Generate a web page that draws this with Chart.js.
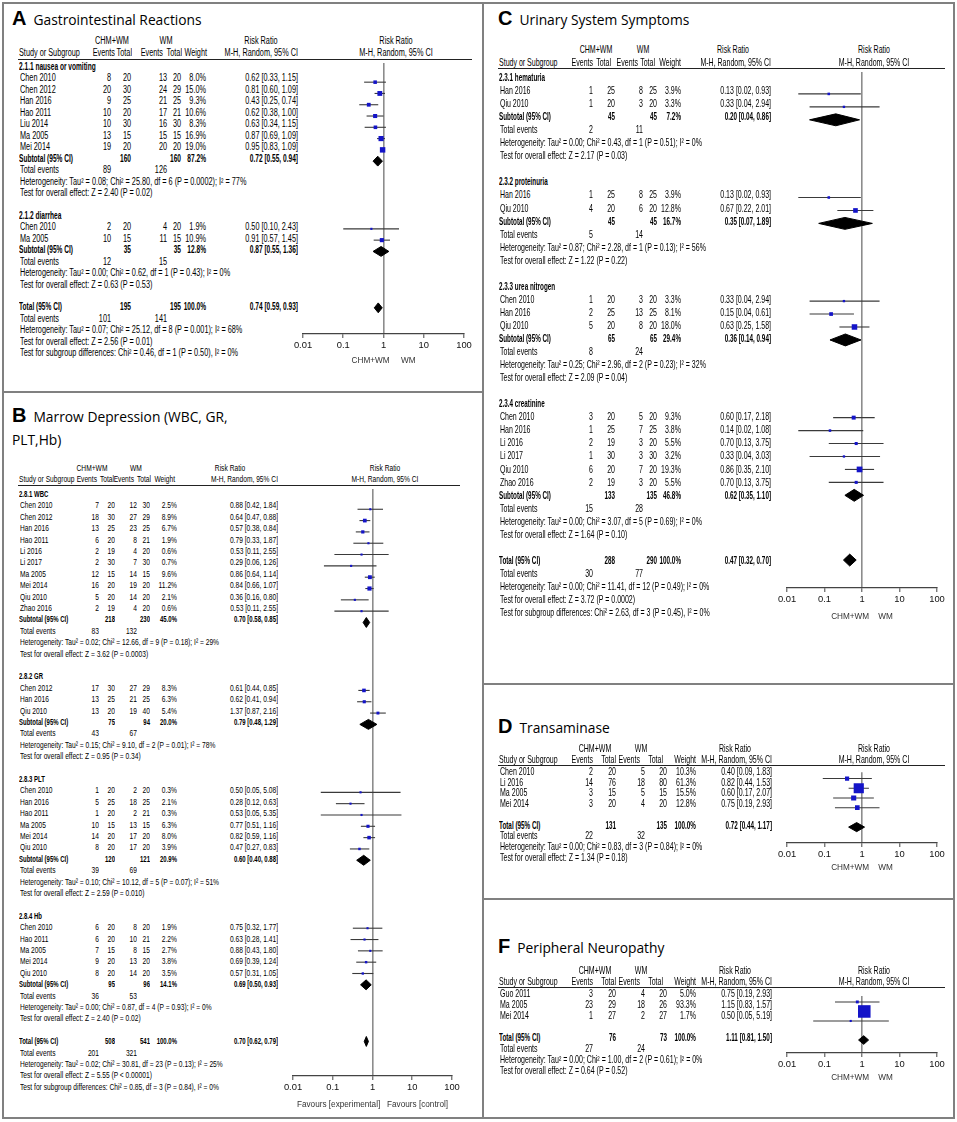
<!DOCTYPE html>
<html>
<head>
<meta charset="utf-8">
<script src="https://cdn.jsdelivr.net/npm/chart.js@4.4.0/dist/chart.umd.min.js"></script>
<style>
body { margin: 0; background: #fff; }
#fig { position: relative; width: 957px; height: 1122px; overflow: hidden; color: #000;
       font-family: "Liberation Sans", Arial, sans-serif; }
.t { position: absolute; white-space: nowrap; line-height: 14px; height: 14px; }
.ttl { position: absolute; white-space: nowrap; font-family: "Open Sans", sans-serif; font-size: 13.8px; line-height: 20px; }
.ttl b { font-family: "Liberation Sans", Arial, sans-serif; font-size: 20px; margin-right: 7px; }
.ln { position: absolute; background: #808080; }
.hl { position: absolute; height: 1px; background: #222; }
canvas { position: absolute; }
</style>
</head>
<body>
<div id="fig"></div>
<script>
// x axis of every forest plot
var tickValues = [0.01, 0.1, 1, 10, 100];
var tickLabels = ["0.01", "0.1", "1", "10", "100"];

// study rows: [name, CHM+WM events, total, WM events, total, weight %, RR, low, high]
// subtotal rows: [CHM+WM total, WM total, weight %, RR, low, high]

/* A - gastrointestinal */
var gi1 = [
    ["Chen 2010", 8, 20, 13, 20, 8.0, 0.62, 0.33, 1.15],
    ["Chen 2012", 20, 30, 24, 29, 15.0, 0.81, 0.60, 1.09],
    ["Han 2016", 9, 25, 21, 25, 9.3, 0.43, 0.25, 0.74],
    ["Hao 2011", 10, 20, 17, 21, 10.6, 0.62, 0.38, 1.00],
    ["Liu 2014", 10, 30, 16, 30, 8.3, 0.63, 0.34, 1.15],
    ["Ma 2005", 13, 15, 15, 15, 16.9, 0.87, 0.69, 1.09],
    ["Mei 2014", 19, 20, 20, 20, 19.0, 0.95, 0.83, 1.09]
];
var gi1Sub = [160, 160, 87.2, 0.72, 0.55, 0.94];
var gi1Events = [89, 126];
var gi1Notes = ["Heterogeneity: Tau\u00b2 = 0.08; Chi\u00b2 = 25.80, df = 6 (P = 0.0002); I\u00b2 = 77%",
                "Test for overall effect: Z = 2.40 (P = 0.02)"];
var gi2 = [
    ["Chen 2010", 2, 20, 4, 20, 1.9, 0.50, 0.10, 2.43],
    ["Ma 2005", 10, 15, 11, 15, 10.9, 0.91, 0.57, 1.45]
];
var gi2Sub = [35, 35, 12.8, 0.87, 0.55, 1.36];
var gi2Events = [12, 15];
var gi2Notes = ["Heterogeneity: Tau\u00b2 = 0.00; Chi\u00b2 = 0.62, df = 1 (P = 0.43); I\u00b2 = 0%",
                "Test for overall effect: Z = 0.63 (P = 0.53)"];
var giTotal = [195, 195, 100.0, 0.74, 0.59, 0.93];
var giEvents = [101, 141];
var giNotes = ["Heterogeneity: Tau\u00b2 = 0.07; Chi\u00b2 = 25.12, df = 8 (P = 0.001); I\u00b2 = 68%",
               "Test for overall effect: Z = 2.56 (P = 0.01)",
               "Test for subgroup differences: Chi\u00b2 = 0.46, df = 1 (P = 0.50), I\u00b2 = 0%"];

/* B - marrow depression */
var md1 = [
    ["Chen 2010", 7, 20, 12, 30, 2.5, 0.88, 0.42, 1.84],
    ["Chen 2012", 18, 30, 27, 29, 8.9, 0.64, 0.47, 0.88],
    ["Han 2016", 13, 25, 23, 25, 6.7, 0.57, 0.38, 0.84],
    ["Hao 2011", 6, 20, 8, 21, 1.9, 0.79, 0.33, 1.87],
    ["Li 2016", 2, 19, 4, 20, 0.6, 0.53, 0.11, 2.55],
    ["Li 2017", 2, 30, 7, 30, 0.7, 0.29, 0.06, 1.26],
    ["Ma 2005", 12, 15, 14, 15, 9.6, 0.86, 0.64, 1.14],
    ["Mei 2014", 16, 20, 19, 20, 11.2, 0.84, 0.66, 1.07],
    ["Qiu 2010", 5, 20, 14, 20, 2.1, 0.36, 0.16, 0.80],
    ["Zhao 2016", 2, 19, 4, 20, 0.6, 0.53, 0.11, 2.55]
];
var md1Sub = [218, 230, 45.0, 0.70, 0.58, 0.85];
var md1Events = [83, 132];
var md1Notes = ["Heterogeneity: Tau\u00b2 = 0.02; Chi\u00b2 = 12.66, df = 9 (P = 0.18); I\u00b2 = 29%",
                "Test for overall effect: Z = 3.62 (P = 0.0003)"];
var md2 = [
    ["Chen 2012", 17, 30, 27, 29, 8.3, 0.61, 0.44, 0.85],
    ["Han 2016", 13, 25, 21, 25, 6.3, 0.62, 0.41, 0.94],
    ["Qiu 2010", 13, 20, 19, 40, 5.4, 1.37, 0.87, 2.16]
];
var md2Sub = [75, 94, 20.0, 0.79, 0.48, 1.29];
var md2Events = [43, 67];
var md2Notes = ["Heterogeneity: Tau\u00b2 = 0.15; Chi\u00b2 = 9.10, df = 2 (P = 0.01); I\u00b2 = 78%",
                "Test for overall effect: Z = 0.95 (P = 0.34)"];
var md3 = [
    ["Chen 2010", 1, 20, 2, 20, 0.3, 0.50, 0.05, 5.08],
    ["Han 2016", 5, 25, 18, 25, 2.1, 0.28, 0.12, 0.63],
    ["Hao 2011", 1, 20, 2, 21, 0.3, 0.53, 0.05, 5.35],
    ["Ma 2005", 10, 15, 13, 15, 6.3, 0.77, 0.51, 1.16],
    ["Mei 2014", 14, 20, 17, 20, 8.0, 0.82, 0.59, 1.16],
    ["Qiu 2010", 8, 20, 17, 20, 3.9, 0.47, 0.27, 0.83]
];
var md3Sub = [120, 121, 20.9, 0.60, 0.40, 0.88];
var md3Events = [39, 69];
var md3Notes = ["Heterogeneity: Tau\u00b2 = 0.10; Chi\u00b2 = 10.12, df = 5 (P = 0.07); I\u00b2 = 51%",
                "Test for overall effect: Z = 2.59 (P = 0.010)"];
var md4 = [
    ["Chen 2010", 6, 20, 8, 20, 1.9, 0.75, 0.32, 1.77],
    ["Hao 2011", 6, 20, 10, 21, 2.2, 0.63, 0.28, 1.41],
    ["Ma 2005", 7, 15, 8, 15, 2.7, 0.88, 0.43, 1.80],
    ["Mei 2014", 9, 20, 13, 20, 3.8, 0.69, 0.39, 1.24],
    ["Qiu 2010", 8, 20, 14, 20, 3.5, 0.57, 0.31, 1.05]
];
var md4Sub = [95, 96, 14.1, 0.69, 0.50, 0.93];
var md4Events = [36, 53];
var md4Notes = ["Heterogeneity: Tau\u00b2 = 0.00; Chi\u00b2 = 0.87, df = 4 (P = 0.93); I\u00b2 = 0%",
                "Test for overall effect: Z = 2.40 (P = 0.02)"];
var mdTotal = [508, 541, 100.0, 0.70, 0.62, 0.79];
var mdEvents = [201, 321];
var mdNotes = ["Heterogeneity: Tau\u00b2 = 0.02; Chi\u00b2 = 30.81, df = 23 (P = 0.13); I\u00b2 = 25%",
               "Test for overall effect: Z = 5.55 (P < 0.00001)",
               "Test for subgroup differences: Chi\u00b2 = 0.85, df = 3 (P = 0.84), I\u00b2 = 0%"];

/* C - urinary system */
var us1 = [
    ["Han 2016", 1, 25, 8, 25, 3.9, 0.13, 0.02, 0.93],
    ["Qiu 2010", 1, 20, 3, 20, 3.3, 0.33, 0.04, 2.94]
];
var us1Sub = [45, 45, 7.2, 0.20, 0.04, 0.86];
var us1Events = [2, 11];
var us1Notes = ["Heterogeneity: Tau\u00b2 = 0.00; Chi\u00b2 = 0.43, df = 1 (P = 0.51); I\u00b2 = 0%",
                "Test for overall effect: Z = 2.17 (P = 0.03)"];
var us2 = [
    ["Han 2016", 1, 25, 8, 25, 3.9, 0.13, 0.02, 0.93],
    ["Qiu 2010", 4, 20, 6, 20, 12.8, 0.67, 0.22, 2.01]
];
var us2Sub = [45, 45, 16.7, 0.35, 0.07, 1.89];
var us2Events = [5, 14];
var us2Notes = ["Heterogeneity: Tau\u00b2 = 0.87; Chi\u00b2 = 2.28, df = 1 (P = 0.13); I\u00b2 = 56%",
                "Test for overall effect: Z = 1.22 (P = 0.22)"];
var us3 = [
    ["Chen 2010", 1, 20, 3, 20, 3.3, 0.33, 0.04, 2.94],
    ["Han 2016", 2, 25, 13, 25, 8.1, 0.15, 0.04, 0.61],
    ["Qiu 2010", 5, 20, 8, 20, 18.0, 0.63, 0.25, 1.58]
];
var us3Sub = [65, 65, 29.4, 0.36, 0.14, 0.94];
var us3Events = [8, 24];
var us3Notes = ["Heterogeneity: Tau\u00b2 = 0.25; Chi\u00b2 = 2.96, df = 2 (P = 0.23); I\u00b2 = 32%",
                "Test for overall effect: Z = 2.09 (P = 0.04)"];
var us4 = [
    ["Chen 2010", 3, 20, 5, 20, 9.3, 0.60, 0.17, 2.18],
    ["Han 2016", 1, 25, 7, 25, 3.8, 0.14, 0.02, 1.08],
    ["Li 2016", 2, 19, 3, 20, 5.5, 0.70, 0.13, 3.75],
    ["Li 2017", 1, 30, 3, 30, 3.2, 0.33, 0.04, 3.03],
    ["Qiu 2010", 6, 20, 7, 20, 19.3, 0.86, 0.35, 2.10],
    ["Zhao 2016", 2, 19, 3, 20, 5.5, 0.70, 0.13, 3.75]
];
var us4Sub = [133, 135, 46.8, 0.62, 0.35, 1.10];
var us4Events = [15, 28];
var us4Notes = ["Heterogeneity: Tau\u00b2 = 0.00; Chi\u00b2 = 3.07, df = 5 (P = 0.69); I\u00b2 = 0%",
                "Test for overall effect: Z = 1.64 (P = 0.10)"];
var usTotal = [288, 290, 100.0, 0.47, 0.32, 0.70];
var usEvents = [30, 77];
var usNotes = ["Heterogeneity: Tau\u00b2 = 0.00; Chi\u00b2 = 11.41, df = 12 (P = 0.49); I\u00b2 = 0%",
               "Test for overall effect: Z = 3.72 (P = 0.0002)",
               "Test for subgroup differences: Chi\u00b2 = 2.63, df = 3 (P = 0.45), I\u00b2 = 0%"];

/* D - transaminase */
var tr = [
    ["Chen 2010", 2, 20, 5, 20, 10.3, 0.40, 0.09, 1.83],
    ["Li 2016", 14, 76, 18, 80, 61.3, 0.82, 0.44, 1.53],
    ["Ma 2005", 3, 15, 5, 15, 15.5, 0.60, 0.17, 2.07],
    ["Mei 2014", 3, 20, 4, 20, 12.8, 0.75, 0.19, 2.93]
];
var trTotal = [131, 135, 100.0, 0.72, 0.44, 1.17];
var trEvents = [22, 32];
var trNotes = ["Heterogeneity: Tau\u00b2 = 0.00; Chi\u00b2 = 0.83, df = 3 (P = 0.84); I\u00b2 = 0%",
               "Test for overall effect: Z = 1.34 (P = 0.18)"];

/* F - peripheral neuropathy */
var pn = [
    ["Guo 2011", 3, 20, 4, 20, 5.0, 0.75, 0.19, 2.93],
    ["Ma 2005", 23, 29, 18, 26, 93.3, 1.15, 0.83, 1.57],
    ["Mei 2014", 1, 27, 2, 27, 1.7, 0.50, 0.05, 5.19]
];
var pnTotal = [76, 73, 100.0, 1.11, 0.81, 1.50];
var pnEvents = [27, 24];
var pnNotes = ["Heterogeneity: Tau\u00b2 = 0.00; Chi\u00b2 = 1.00, df = 2 (P = 0.61); I\u00b2 = 0%",
               "Test for overall effect: Z = 0.64 (P = 0.52)"];

/************** layout of the five panels **************/
var rightCols = { name: 500, e1: 593, n1: 616, e2: 645, n2: 667, w: 696, ci: 772 };
var rightHead = { c1: 595, c2: 641, rr: 735, ev1: 593, t1: 616, ev2: 640, t2: 663, w: 696 };
var panels = [
    { letter: "A", title: ["Gastrointestinal Reactions"], tx: 12, ty: 18,
      h1: 41, h2: 53, lineY: 59, lx0: 18, lx1: 472, row0: 67, pitch: 11.45, fs: 10, sx: 0.73,
      cols: { name: 20, e1: 111, n1: 131, e2: 167, n2: 181, w: 206, ci: 298 },
      hc: { c1: 112, c2: 166, rr: 261, ev1: 115, t1: 132, ev2: 163, t2: 182, w: 207 },
      x0: 303, x1: 464, axisY: 334, axisH: 32, xTitle: "CHM+WM     WM", sq: 1.25, dia: 5,
      groups: [
          { label: "2.1.1 nausea or vomiting", rows: gi1, sub: gi1Sub, ev: gi1Events, notes: gi1Notes },
          { label: "2.1.2 diarrhea", rows: gi2, sub: gi2Sub, ev: gi2Events, notes: gi2Notes }
      ],
      total: { sub: giTotal, ev: giEvents, notes: giNotes } },
    { letter: "B", title: ["Marrow Depression (WBC, GR,", "PLT,Hb)"], tx: 12, ty: 415,
      h1: 468, h2: 479, lineY: 485, lx0: 18, lx1: 460, row0: 494, pitch: 11.4, fs: 9.4, sx: 0.71,
      cols: { name: 20, e1: 99, n1: 115, e2: 137, n2: 150, w: 177, ci: 278 },
      hc: { c1: 92, c2: 136, rr: 230, ev1: 97, t1: 114, ev2: 134, t2: 151, w: 175 },
      x0: 293, x1: 452, axisY: 1076, axisH: 34, xTitle: "Favours [experimental]   Favours [control]", sq: 1.25, dia: 5,
      groups: [
          { label: "2.8.1 WBC", rows: md1, sub: md1Sub, ev: md1Events, notes: md1Notes },
          { label: "2.8.2 GR", rows: md2, sub: md2Sub, ev: md2Events, notes: md2Notes },
          { label: "2.8.3 PLT", rows: md3, sub: md3Sub, ev: md3Events, notes: md3Notes },
          { label: "2.8.4 Hb", rows: md4, sub: md4Sub, ev: md4Events, notes: md4Notes }
      ],
      total: { sub: mdTotal, ev: mdEvents, notes: mdNotes } },
    { letter: "C", title: ["Urinary System Symptoms"], tx: 498, ty: 18,
      h1: 49, h2: 62, lineY: 68, lx0: 498, lx1: 945, row0: 77, pitch: 13.05, fs: 10.8, sx: 0.65,
      cols: { name: 500, e1: 593, n1: 615, e2: 643, n2: 657, w: 681, ci: 771 },
      hc: { c1: 596, c2: 643, rr: 733, ev1: 593, t1: 611, ev2: 638, t2: 655, w: 681 },
      x0: 787, x1: 937, axisY: 588, axisH: 34, xTitle: "CHM+WM    WM", sq: 1.3, dia: 6,
      groups: [
          { label: "2.3.1 hematuria", rows: us1, sub: us1Sub, ev: us1Events, notes: us1Notes },
          { label: "2.3.2 proteinuria", rows: us2, sub: us2Sub, ev: us2Events, notes: us2Notes },
          { label: "2.3.3 urea nitrogen", rows: us3, sub: us3Sub, ev: us3Events, notes: us3Notes },
          { label: "2.3.4 creatinine", rows: us4, sub: us4Sub, ev: us4Events, notes: us4Notes }
      ],
      total: { sub: usTotal, ev: usEvents, notes: usNotes } },
    { letter: "D", title: ["Transaminase"], tx: 498, ty: 726,
      h1: 749, h2: 760, lineY: 765, lx0: 498, lx1: 945, row0: 772, pitch: 10.7, fs: 10.2, sx: 0.69,
      cols: rightCols, hc: rightHead,
      x0: 787, x1: 937, axisY: 843, axisH: 30, xTitle: "CHM+WM    WM", sq: 1.3, dia: 5,
      groups: [{ label: null, rows: tr }],
      total: { sub: trTotal, ev: trEvents, notes: trNotes } },
    { letter: "F", title: ["Peripheral Neuropathy"], tx: 498, ty: 946,
      h1: 971, h2: 982, lineY: 987, lx0: 498, lx1: 945, row0: 994, pitch: 11, fs: 10.2, sx: 0.69,
      cols: rightCols, hc: rightHead,
      x0: 787, x1: 937, axisY: 1053, axisH: 30, xTitle: "CHM+WM    WM", sq: 1.3, dia: 5,
      groups: [{ label: null, rows: pn }],
      total: { sub: pnTotal, ev: pnEvents, notes: pnNotes } }
];

var fig = document.getElementById("fig");
Chart.defaults.font.family = '"Liberation Sans", Arial, sans-serif';
Chart.defaults.color = "#111";

var curScale = 0.73;
function put(s, x, y, align, fs, bold) {
    var d = document.createElement("div");
    d.className = "t";
    d.textContent = s;
    d.style.fontSize = fs + "px";
    d.style.top = (y - 7) + "px";
    // bold text is squeezed a little more so it keeps the narrow look
    d.style.transform = "scaleX(" + (bold ? curScale * 0.9 : curScale) + ")";
    if (bold) d.style.fontWeight = "bold";
    if (align == "left") {
        d.style.left = x + "px";
        d.style.transformOrigin = "left center";
    } else if (align == "right") {
        d.style.left = (x - 300) + "px";
        d.style.width = "300px";
        d.style.textAlign = "right";
        d.style.transformOrigin = "right center";
    } else {
        d.style.left = (x - 300) + "px";
        d.style.width = "600px";
        d.style.textAlign = "center";
        d.style.transformOrigin = "center center";
    }
    fig.appendChild(d);
}

function box(x, y, w, h, cls) {
    var d = document.createElement("div");
    d.className = cls || "ln";
    d.style.left = x + "px"; d.style.top = y + "px";
    d.style.width = w + "px"; d.style.height = h + "px";
    fig.appendChild(d);
}

function ciText(v) {
    return v[0].toFixed(2) + " [" + v[1].toFixed(2) + ", " + v[2].toFixed(2) + "]";
}

function buildRows(p) {
    var rows = [];
    p.groups.forEach(function (g) {
        if (g.label) rows.push({ k: "head", text: g.label });
        g.rows.forEach(function (s) { rows.push({ k: "study", s: s }); });
        if (g.sub) {
            rows.push({ k: "sub", label: "Subtotal (95% CI)", v: g.sub });
            rows.push({ k: "ev", v: g.ev });
            g.notes.forEach(function (n) { rows.push({ k: "note", text: n }); });
        }
        rows.push({ k: "blank" });
    });
    rows.push({ k: "sub", label: "Total (95% CI)", v: p.total.sub });
    rows.push({ k: "ev", v: p.total.ev });
    p.total.notes.forEach(function (n) { rows.push({ k: "note", text: n }); });
    return rows;
}

function drawTable(p, rows) {
    var c = p.cols, hc = p.hc, fs = p.fs;
    curScale = p.sx;
    p.title.forEach(function (line, i) {
        var d = document.createElement("div");
        d.className = "ttl";
        d.style.left = p.tx + "px";
        d.style.top = (p.ty - 10 + i * 25) + "px";
        if (i == 0) {
            var b = document.createElement("b");
            b.textContent = p.letter;
            d.appendChild(b);
        }
        d.appendChild(document.createTextNode(line));
        fig.appendChild(d);
    });
    var mid = (p.x0 + p.x1) / 2 + 12;
    put("CHM+WM", hc.c1, p.h1, "center", fs);
    put("WM", hc.c2, p.h1, "center", fs);
    put("Risk Ratio", hc.rr, p.h1, "center", fs);
    put("Risk Ratio", mid, p.h1, "center", fs);
    put("Study or Subgroup", c.name - 1, p.h2, "left", fs);
    put("Events", hc.ev1, p.h2, "right", fs);
    put("Total", hc.t1, p.h2, "right", fs);
    put("Events", hc.ev2, p.h2, "right", fs);
    put("Total", hc.t2, p.h2, "right", fs);
    put("Weight", hc.w, p.h2, "right", fs);
    put("M-H, Random, 95% CI", c.ci, p.h2, "right", fs);
    put("M-H, Random, 95% CI", mid, p.h2, "center", fs);
    box(p.lx0, p.lineY, p.lx1 - p.lx0, 1.4, "hl");

    rows.forEach(function (r, i) {
        var y = p.row0 + i * p.pitch;
        if (r.k == "head") {
            put(r.text, c.name - 1, y, "left", fs, true);
        } else if (r.k == "study") {
            var s = r.s;
            put(s[0], c.name, y, "left", fs);
            put(String(s[1]), c.e1, y, "right", fs);
            put(String(s[2]), c.n1, y, "right", fs);
            put(String(s[3]), c.e2, y, "right", fs);
            put(String(s[4]), c.n2, y, "right", fs);
            put(s[5].toFixed(1) + "%", c.w, y, "right", fs);
            put(ciText([s[6], s[7], s[8]]), c.ci, y, "right", fs);
        } else if (r.k == "sub") {
            var v = r.v;
            put(r.label, c.name - 1, y, "left", fs, true);
            put(String(v[0]), c.n1, y, "right", fs, true);
            put(String(v[1]), c.n2, y, "right", fs, true);
            put(v[2].toFixed(1) + "%", c.w, y, "right", fs, true);
            put(ciText([v[3], v[4], v[5]]), c.ci, y, "right", fs, true);
        } else if (r.k == "ev") {
            put("Total events", c.name, y, "left", fs);
            put(String(r.v[0]), c.e1, y, "right", fs);
            put(String(r.v[1]), c.e2, y, "right", fs);
        } else if (r.k == "note") {
            put(r.text, c.name, y, "left", fs);
        }
    });
}

function drawPlot(p, rows) {
    var pad = 24;
    var top = p.lineY;
    var w = p.x1 - p.x0 + 2 * pad;
    var h = p.axisY - top + p.axisH;
    var cv = document.createElement("canvas");
    cv.width = w; cv.height = h;
    cv.style.left = (p.x0 - pad) + "px";
    cv.style.top = top + "px";
    cv.style.width = w + "px"; cv.style.height = h + "px";
    fig.appendChild(cv);

    var yMin = (top - p.row0) / p.pitch;
    var yMax = (p.axisY - p.row0) / p.pitch;
    var studies = [];
    rows.forEach(function (r, i) { if (r.k == "study") studies.push({ s: r.s, y: i }); });

    var datasets = [];
    // weight squares (first dataset is drawn on top)
    datasets.push({
        data: studies.map(function (o) { return { x: o.s[6], y: o.y }; }),
        pointStyle: "rect",
        pointRadius: studies.map(function (o) { return Math.max(1.5, p.sq * Math.sqrt(o.s[5]) / Math.SQRT2); }),
        pointBackgroundColor: "#1414c8",
        pointBorderWidth: 0,
        showLine: false
    });
    // confidence intervals
    studies.forEach(function (o) {
        datasets.push({
            data: [{ x: o.s[7], y: o.y }, { x: o.s[8], y: o.y }],
            showLine: true, borderColor: "#3a3a3a", borderWidth: 1.1, pointRadius: 0
        });
    });
    // pooled diamonds
    var dh = p.dia / p.pitch;
    rows.forEach(function (r, i) {
        if (r.k != "sub") return;
        var rr = r.v[3], lo = r.v[4], hi = r.v[5];
        datasets.push({
            data: [{ x: lo, y: i }, { x: rr, y: i - dh }, { x: hi, y: i }, { x: rr, y: i + dh }, { x: lo, y: i }],
            showLine: true, fill: "shape", backgroundColor: "#000", borderColor: "#000",
            borderWidth: 1, pointRadius: 0
        });
    });

    new Chart(cv, {
        type: "scatter",
        data: { datasets: datasets },
        options: {
            responsive: false,
            animation: false,
            events: [],
            layout: { padding: { left: pad, right: pad, top: 0, bottom: 0 } },
            plugins: { legend: { display: false }, tooltip: { enabled: false } },
            scales: {
                x: {
                    type: "logarithmic", min: 0.01, max: 100, position: "bottom",
                    afterBuildTicks: function (s) { s.ticks = tickValues.map(function (v) { return { value: v }; }); },
                    afterFit: function (s) { s.height = p.axisH; },
                    ticks: {
                        autoSkip: false, maxRotation: 0, padding: 2, color: "#111",
                        font: { size: 9.4 },
                        callback: function (v, i) { return tickLabels[i]; }
                    },
                    grid: {
                        drawOnChartArea: true,
                        color: function (ctx) { return ctx.tick && ctx.tick.value == 1 ? "#8c8c8c" : "rgba(0,0,0,0)"; },
                        lineWidth: 1.6,
                        tickColor: "#444", tickWidth: 1, tickLength: 4
                    },
                    border: { display: true, color: "#444", width: 1.2 },
                    title: { display: true, text: p.xTitle, color: "#333", font: { size: 8.2 }, padding: 0 }
                },
                y: { type: "linear", min: yMin, max: yMax, reverse: true, display: false }
            }
        }
    });
}

// frame and panel dividers
box(2, 2, 953, 2); box(2, 1117, 953, 2);
box(2, 2, 2, 1117); box(953, 2, 2, 1117);
box(482, 2, 2, 1117);
box(2, 391, 482, 2);
box(482, 683, 473, 2);
box(482, 898, 473, 2);

panels.forEach(function (p) {
    var rows = buildRows(p);
    drawTable(p, rows);
    drawPlot(p, rows);
});
</script>
</body>
</html>
